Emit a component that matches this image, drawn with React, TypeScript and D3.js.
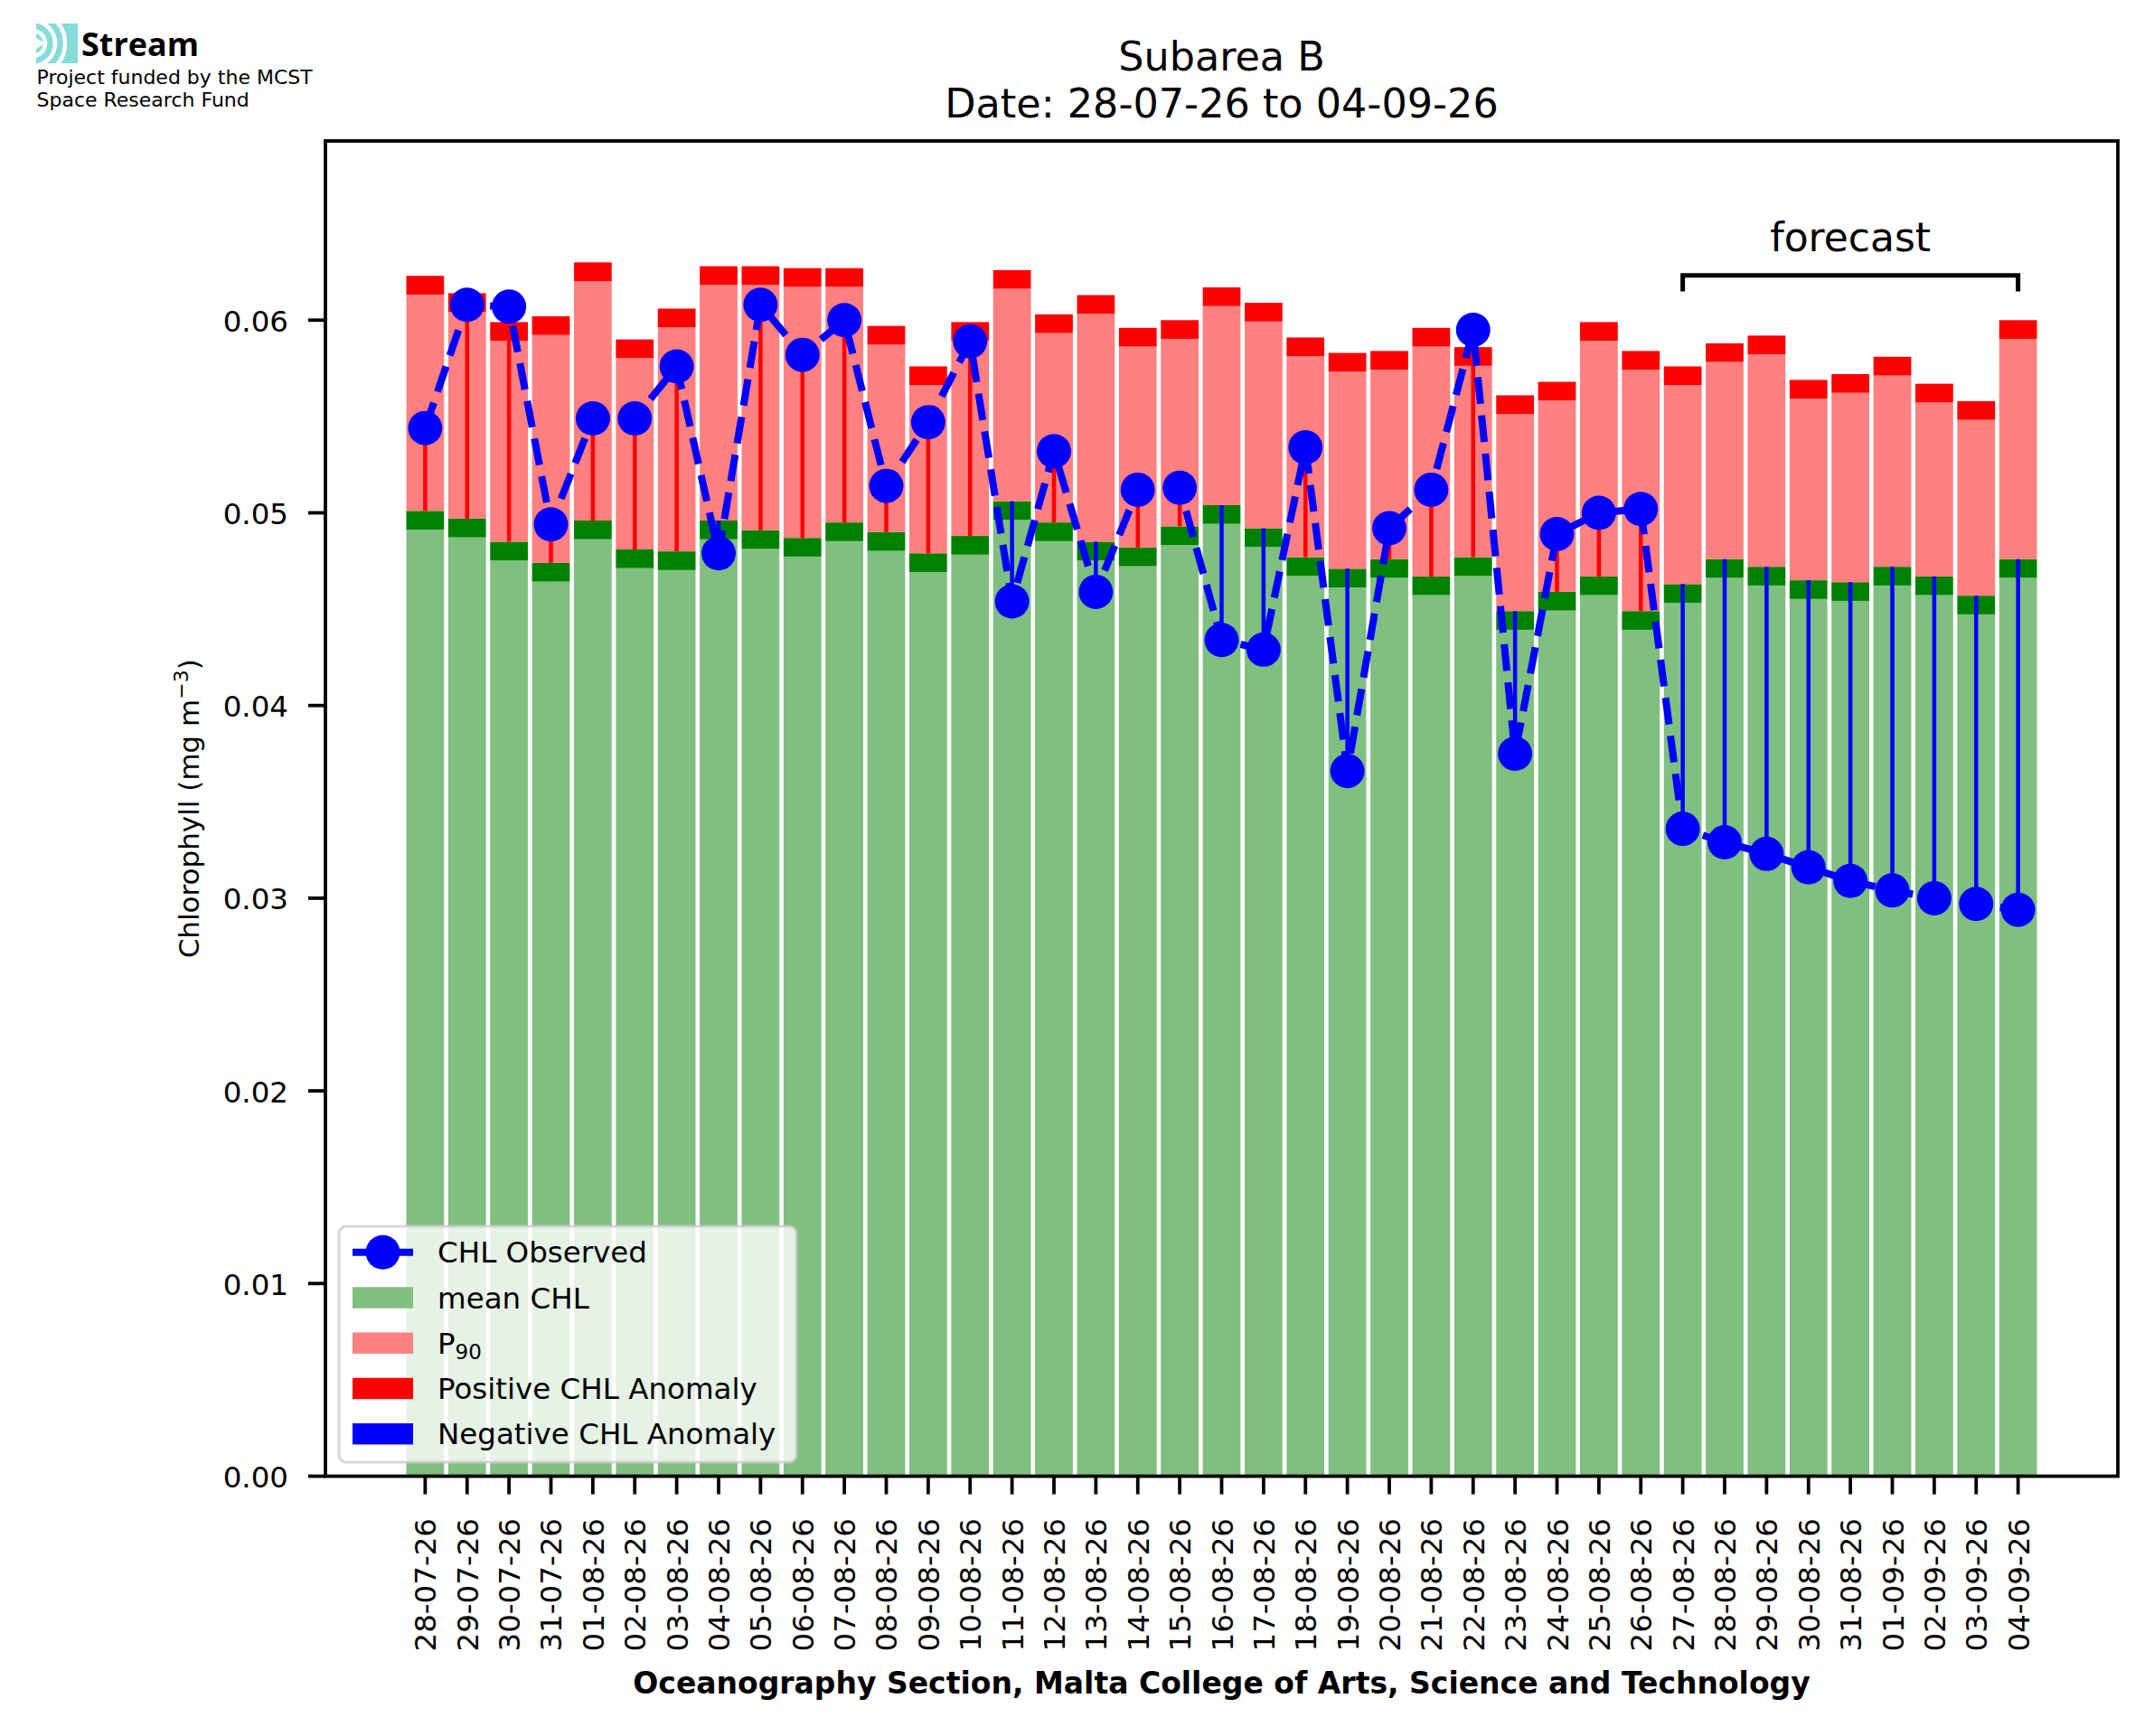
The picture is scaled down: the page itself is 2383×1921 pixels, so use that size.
import React from "react";
import * as d3 from "d3";

const dates = [
  "28-07-26","29-07-26","30-07-26","31-07-26","01-08-26","02-08-26","03-08-26","04-08-26",
  "05-08-26","06-08-26","07-08-26","08-08-26","09-08-26","10-08-26","11-08-26","12-08-26",
  "13-08-26","14-08-26","15-08-26","16-08-26","17-08-26","18-08-26","19-08-26","20-08-26",
  "21-08-26","22-08-26","23-08-26","24-08-26","25-08-26","26-08-26","27-08-26","28-08-26",
  "29-08-26","30-08-26","31-08-26","01-09-26","02-09-26","03-09-26","04-09-26",
];

const meanCHL = [
  0.0501, 0.0497, 0.0485, 0.0474, 0.0496, 0.0481, 0.0480, 0.0496,
  0.0491, 0.0487, 0.0495, 0.0490, 0.0479, 0.0488, 0.0506, 0.0495,
  0.0485, 0.0482, 0.0493, 0.0504, 0.0492, 0.0477, 0.0471, 0.0476,
  0.0467, 0.0477, 0.0449, 0.0459, 0.0467, 0.0449, 0.0463, 0.0476,
  0.0472, 0.0465, 0.0464, 0.0472, 0.0467, 0.0457, 0.0476,
];

const p90CHL = [
  0.0623, 0.0614, 0.0599, 0.0602, 0.0630, 0.0590, 0.0606, 0.0628,
  0.0628, 0.0627, 0.0627, 0.0597, 0.0576, 0.0599, 0.0626, 0.0603,
  0.0613, 0.0596, 0.0600, 0.0617, 0.0609, 0.0591, 0.0583, 0.0584,
  0.0596, 0.0586, 0.0561, 0.0568, 0.0599, 0.0584, 0.0576, 0.0588,
  0.0592, 0.0569, 0.0572, 0.0581, 0.0567, 0.0558, 0.0600,
];

const observedCHL = [
  0.0544, 0.0608, 0.0607, 0.0494, 0.0549, 0.0549, 0.0576, 0.0479,
  0.0608, 0.0582, 0.0600, 0.0514, 0.0547, 0.0589, 0.0454, 0.0532,
  0.0459, 0.0512, 0.0513, 0.0434, 0.0429, 0.0534, 0.0366, 0.0492,
  0.0512, 0.0595, 0.0375, 0.0489, 0.0500, 0.0502, 0.0336, 0.0329,
  0.0323, 0.0316, 0.0309, 0.0304, 0.0300, 0.0297, 0.0294,
];

const yTicks = [0, 0.01, 0.02, 0.03, 0.04, 0.05, 0.06];
const BAND = 0.00097;
const forecastStart = "27-08-26";
const forecastEnd = "04-09-26";

const legendItems = ["CHL Observed", "mean CHL", "P90", "Positive CHL Anomaly", "Negative CHL Anomaly"];

const W = 2383;
const H = 1921;
const FONT = "DejaVu Sans, sans-serif";

export default function App() {
  const n = dates.length;
  const left = 360, right = 2343, top = 156, bottom = 1633.5;
  const x = d3.scaleLinear().domain([-2.38, n - 1 + 2.38]).range([left, right]);
  const yMax = d3.max(p90CHL)! * 1.1;
  const y = d3.scaleLinear().domain([0, yMax]).range([bottom, top]);
  const bw = 0.9;

  const line = d3
    .line<number>()
    .x((_, i) => x(i))
    .y((d) => y(d));

  const lightGreen = "#7fbf7f";
  const darkGreen = "#008000";
  const lightRed = "#ff8080";
  const red = "#ff0000";
  const blue = "#0000ff";

  const fs = dates.indexOf(forecastStart);
  const fe = dates.indexOf(forecastEnd);

  const legX = 375, legY = 1357, legW = 506, legH = 261;
  const rowY = (k: number) => 1385.7 + k * 50.25;

  return (
    <svg
      width={W}
      height={H}
      viewBox={`0 0 ${W} ${H}`}
      style={{ position: "absolute", left: 0, top: 0, background: "#fff" }}
      fontFamily={FONT}
    >
      <rect x={0} y={0} width={W} height={H} fill="#fff" />

      {/* logo */}
      <defs>
        <clipPath id="logoClip">
          <rect x={40} y={26} width={46} height={44} />
        </clipPath>
      </defs>
      <g clipPath="url(#logoClip)">
        <rect x={40} y={26} width={46} height={44} fill="#85dcd9" />
        {[14, 25, 36].map((r) => (
          <circle key={r} cx={36} cy={48} r={r} fill="none" stroke="#fff" strokeWidth={4.5} />
        ))}
        <path d="M40,42 L50,48 L40,54 Z" fill="#fff" />
      </g>
      <text x={90} y={61.7} fontFamily="Open Sans, sans-serif" fontWeight={700} fontSize={36} fill="#000">
        Stream
      </text>
      <text x={40.5} y={92.7} fontSize={22} fill="#000">Project funded by the MCST</text>
      <text x={40.5} y={118.3} fontSize={22} fill="#000">Space Research Fund</text>

      {/* title */}
      <text x={(left + right) / 2} y={78} fontSize={44.5} textAnchor="middle" fill="#000">Subarea B</text>
      <text x={(left + right) / 2} y={130} fontSize={44.5} textAnchor="middle" fill="#000">
        {`Date: ${dates[0]} to ${dates[n - 1]}`}
      </text>

      {/* bars */}
      <g>
        {dates.map((d, i) => {
          const x0 = x(i - bw / 2);
          const w = x(i + bw / 2) - x0;
          const m = meanCHL[i];
          const p = p90CHL[i];
          return (
            <g key={d}>
              <rect x={x0} width={w} y={y(m - BAND)} height={y(0) - y(m - BAND)} fill={lightGreen} />
              <rect x={x0} width={w} y={y(m)} height={y(m - BAND) - y(m)} fill={darkGreen} />
              <rect x={x0} width={w} y={y(p - BAND)} height={y(m) - y(p - BAND)} fill={lightRed} />
              <rect x={x0} width={w} y={y(p)} height={y(p - BAND) - y(p)} fill={red} />
            </g>
          );
        })}
      </g>

      {/* anomaly stems */}
      <g>
        {dates.map((d, i) => (
          <line
            key={d}
            x1={x(i)}
            x2={x(i)}
            y1={y(meanCHL[i])}
            y2={y(observedCHL[i])}
            stroke={observedCHL[i] >= meanCHL[i] ? red : blue}
            strokeWidth={4.5}
          />
        ))}
      </g>

      {/* observed line */}
      <path d={line(observedCHL) || ""} fill="none" stroke={blue} strokeWidth={8} strokeDasharray="29.6,12.8" />
      {observedCHL.map((v, i) => (
        <circle key={i} cx={x(i)} cy={y(v)} r={19} fill={blue} />
      ))}

      {/* forecast bracket */}
      <path
        d={`M${x(fs)},322.5 V304.7 H${x(fe)} V322.5`}
        fill="none"
        stroke="#000"
        strokeWidth={5}
      />
      <text x={(x(fs) + x(fe)) / 2} y={278} fontSize={44} textAnchor="middle" fill="#000">forecast</text>

      {/* axes frame */}
      <rect x={left} y={top} width={right - left} height={bottom - top} fill="none" stroke="#000" strokeWidth={3.8} />

      {/* y ticks */}
      {yTicks.map((t) => (
        <g key={t}>
          <line x1={left - 19} x2={left} y1={y(t)} y2={y(t)} stroke="#000" strokeWidth={3.8} />
          <text x={319} y={y(t) + 12.5} fontSize={32.5} textAnchor="end" fill="#000">
            {d3.format(".2f")(t)}
          </text>
        </g>
      ))}

      {/* x ticks */}
      {dates.map((d, i) => (
        <g key={d}>
          <line x1={x(i)} x2={x(i)} y1={bottom} y2={bottom + 20} stroke="#000" strokeWidth={3.8} />
          <text
            transform={`translate(${x(i) + 12},1680) rotate(-90)`}
            fontSize={32.5}
            textAnchor="end"
            fill="#000"
          >
            {d}
          </text>
        </g>
      ))}

      {/* axis labels */}
      <text x={(left + right) / 2} y={1874} fontSize={33} fontWeight={700} textAnchor="middle" fill="#000">
        Oceanography Section, Malta College of Arts, Science and Technology
      </text>
      <text transform={`translate(220,${(top + bottom) / 2}) rotate(-90)`} fontSize={31} textAnchor="middle" fill="#000">
        Chlorophyll (mg m<tspan dy={-12} fontSize={22}>−3</tspan><tspan dy={12}>)</tspan>
      </text>

      {/* legend */}
      <rect
        x={legX}
        y={legY}
        width={legW}
        height={legH}
        rx={8}
        fill="#fff"
        fillOpacity={0.8}
        stroke="#cccccc"
        strokeOpacity={0.8}
        strokeWidth={3}
      />
      {legendItems.map((label, k) => {
        const cy = rowY(k);
        let handle: React.ReactNode;
        if (k === 0) {
          handle = (
            <g>
              <line x1={390} x2={457} y1={cy} y2={cy} stroke={blue} strokeWidth={8} strokeDasharray="29.6,12.8" />
              <circle cx={423.5} cy={cy} r={19} fill={blue} />
            </g>
          );
        } else {
          const col = [lightGreen, lightRed, red, blue][k - 1];
          handle = <rect x={390} y={cy - 11.7} width={67} height={23.4} fill={col} />;
        }
        return (
          <g key={label}>
            {handle}
            {label === "P90" ? (
              <text x={484} y={cy + 11.6} fontSize={32.5} fill="#000">
                P<tspan dy={6} fontSize={23}>90</tspan>
              </text>
            ) : (
              <text x={484} y={cy + 11.6} fontSize={32.5} fill="#000">{label}</text>
            )}
          </g>
        );
      })}
    </svg>
  );
}
